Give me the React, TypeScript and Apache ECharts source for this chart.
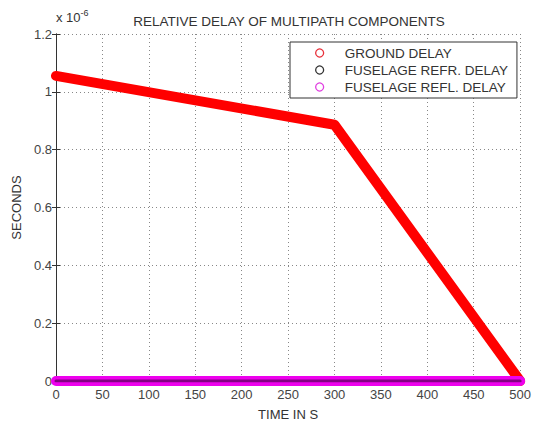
import React, { useEffect, useRef } from "react";
import * as echarts from "echarts";

const timeS = [0, 300, 500];
const groundDelay = [1.055, 0.886, 0];
const fuselageRefrTime = [0, 500];
const fuselageRefrDelay = [0, 0];
const fuselageReflTime = [0, 500];
const fuselageReflDelay = [0, 0];
const xTicks = [0, 50, 100, 150, 200, 250, 300, 350, 400, 450, 500];
const yTicks = [0, 0.2, 0.4, 0.6, 0.8, 1, 1.2];

const FONT = "Liberation Sans, Arial, sans-serif";

export default function App() {
  const ref = useRef<HTMLDivElement>(null);
  useEffect(() => {
    if (!ref.current) return;
    const chart = echarts.init(ref.current, null, { renderer: "svg" });
    const pairs = (xs: number[], ys: number[]) => xs.map((x, i) => [x, ys[i]]);
    const axisCommon = {
      type: "value" as const,
      axisLine: { show: true, lineStyle: { color: "#333", width: 1 } },
      axisTick: { show: true, inside: true, length: 4, lineStyle: { color: "#333" } },
    };
    chart.setOption({
      animation: false,
      backgroundColor: "#fff",
      textStyle: { fontFamily: FONT },
      title: {
        text: "RELATIVE DELAY OF MULTIPATH COMPONENTS",
        left: 284,
        textAlign: "center",
        top: 9,
        textStyle: { fontSize: 13.5, fontWeight: "normal", color: "#333", fontFamily: FONT },
      },
      legend: {
        orient: "vertical",
        left: 290,
        top: 42,
        backgroundColor: "#fff",
        borderColor: "#333",
        borderWidth: 1,
        padding: [4, 9, 4, 25],
        itemGap: 3,
        itemWidth: 8,
        itemHeight: 8,
        textStyle: { fontSize: 13.5, color: "#333", fontFamily: FONT, padding: [0, 0, 0, 16] },
        data: [
          { name: "GROUND DELAY", icon: "circle", itemStyle: { color: "#fff", borderColor: "#e8303a", borderWidth: 1.3 } },
          { name: "FUSELAGE REFR. DELAY", icon: "circle", itemStyle: { color: "#fff", borderColor: "#333", borderWidth: 1.3 } },
          { name: "FUSELAGE REFL. DELAY", icon: "circle", itemStyle: { color: "#fff", borderColor: "#e040e0", borderWidth: 1.3 } },
        ],
      },
      grid: { left: 56, right: 10, top: 34, bottom: 37, show: false },
      xAxis: [
        {
          ...axisCommon,
          min: 0,
          max: 500,
          interval: 50,
          name: "TIME IN S",
          nameLocation: "middle",
          nameGap: 27,
          nameTextStyle: { fontSize: 13, color: "#333", fontFamily: FONT },
          axisLabel: { fontSize: 13, color: "#444", margin: 7, fontFamily: FONT },
          splitLine: { show: true, lineStyle: { type: [1, 3], color: "#888", width: 1 } },
        },
        {
          ...axisCommon,
          position: "top",
          min: 0,
          max: 500,
          interval: 50,
          axisLabel: { show: false },
          splitLine: { show: false },
        },
      ],
      yAxis: [
        {
          ...axisCommon,
          min: 0,
          max: 1.2,
          interval: 0.2,
          name: "SECONDS",
          nameLocation: "middle",
          nameGap: 30,
          nameRotate: 90,
          nameTextStyle: { fontSize: 13, color: "#333", fontFamily: FONT },
          axisLabel: { fontSize: 13, color: "#444", margin: 4, fontFamily: FONT },
          splitLine: { show: true, lineStyle: { type: [1, 3], color: "#888", width: 1 } },
        },
        {
          ...axisCommon,
          position: "right",
          min: 0,
          max: 1.2,
          interval: 0.2,
          axisLabel: { show: false },
          splitLine: { show: false },
        },
      ],
      graphic: [
        {
          type: "text",
          left: 56,
          top: 8,
          style: {
            text: "{a|x 10}{b|-6}",
            rich: {
              a: { fontSize: 13, fill: "#333", fontFamily: FONT, verticalAlign: "bottom" },
              b: { fontSize: 9, fill: "#333", fontFamily: FONT, verticalAlign: "top", padding: [0, 0, 7, 0] },
            },
          },
        },
      ],
      series: [
        {
          name: "GROUND DELAY",
          type: "line",
          data: pairs(timeS, groundDelay),
          showSymbol: false,
          lineStyle: { color: "#ff0000", width: 10, cap: "round", join: "round" },
          itemStyle: { color: "#ff0000" },
          z: 3,
        },
        {
          name: "FUSELAGE REFL. DELAY",
          type: "line",
          data: pairs(fuselageReflTime, fuselageReflDelay),
          showSymbol: false,
          lineStyle: { color: "#ee00ee", width: 10, cap: "round" },
          itemStyle: { color: "#ee00ee" },
          z: 4,
        },
        {
          name: "FUSELAGE REFR. DELAY",
          type: "line",
          data: pairs(fuselageRefrTime, fuselageRefrDelay),
          showSymbol: false,
          lineStyle: { color: "#000", width: 3, opacity: 0.45, cap: "round" },
          itemStyle: { color: "#000" },
          z: 5,
        },
      ],
    });
    return () => chart.dispose();
  }, []);
  return <div ref={ref} style={{ width: 534, height: 426, position: "absolute", left: 0, top: 0 }} />;
}
